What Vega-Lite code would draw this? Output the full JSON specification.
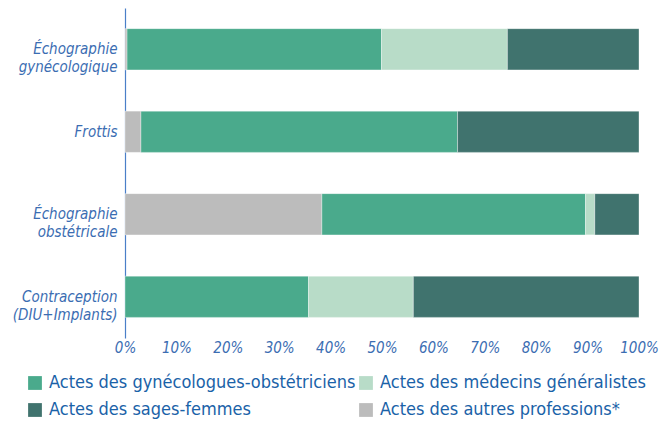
{
  "$schema": "https://vega.github.io/schema/vega-lite/v6.json",
  "width": 514,
  "height": 330,
  "autosize": "none",
  "padding": {"left": 125, "top": 8, "right": 31, "bottom": 83},
  "background": "#ffffff",
  "config": {
    "view": {"stroke": null},
    "font": "Liberation Sans Narrow, DejaVu Sans Condensed, sans-serif"
  },
  "data": {
    "values": [
      {"acte": "Échographie|gynécologique", "type": "Actes des autres professions*", "pct": 0.4, "ord": 0},
      {"acte": "Échographie|gynécologique", "type": "Actes des gynécologues-obstétriciens", "pct": 49.5, "ord": 1},
      {"acte": "Échographie|gynécologique", "type": "Actes des médecins généralistes", "pct": 24.5, "ord": 2},
      {"acte": "Échographie|gynécologique", "type": "Actes des sages-femmes", "pct": 25.6, "ord": 3},
      {"acte": "Frottis", "type": "Actes des autres professions*", "pct": 3.1, "ord": 0},
      {"acte": "Frottis", "type": "Actes des gynécologues-obstétriciens", "pct": 61.6, "ord": 1},
      {"acte": "Frottis", "type": "Actes des sages-femmes", "pct": 35.3, "ord": 3},
      {"acte": "Échographie|obstétricale", "type": "Actes des autres professions*", "pct": 38.3, "ord": 0},
      {"acte": "Échographie|obstétricale", "type": "Actes des gynécologues-obstétriciens", "pct": 51.3, "ord": 1},
      {"acte": "Échographie|obstétricale", "type": "Actes des médecins généralistes", "pct": 1.8, "ord": 2},
      {"acte": "Échographie|obstétricale", "type": "Actes des sages-femmes", "pct": 8.6, "ord": 3},
      {"acte": "Contraception|(DIU+Implants)", "type": "Actes des gynécologues-obstétriciens", "pct": 35.7, "ord": 1},
      {"acte": "Contraception|(DIU+Implants)", "type": "Actes des médecins généralistes", "pct": 20.4, "ord": 2},
      {"acte": "Contraception|(DIU+Implants)", "type": "Actes des sages-femmes", "pct": 43.9, "ord": 3}
    ]
  },
  "mark": {"type": "bar", "stroke": "#ffffff", "strokeWidth": 0.6, "strokeOpacity": 0.6},
  "encoding": {
    "y": {
      "field": "acte",
      "type": "nominal",
      "sort": ["Échographie|gynécologique", "Frottis", "Échographie|obstétricale", "Contraception|(DIU+Implants)"],
      "scale": {"paddingInner": 0.5, "paddingOuter": 0.25},
      "axis": {
        "title": null,
        "ticks": false,
        "domainColor": "#4a7fc8",
        "domainWidth": 1.2,
        "labelExpr": "split(datum.label, '|')",
        "labelFontStyle": "italic",
        "labelFontSize": 15,
        "labelLineHeight": 18,
        "labelColor": "#3b6db2",
        "labelPadding": 8
      }
    },
    "x": {
      "field": "pct",
      "type": "quantitative",
      "stack": "normalize",
      "axis": {
        "title": null,
        "format": ".0%",
        "values": [0, 0.1, 0.2, 0.3, 0.4, 0.5, 0.6, 0.7, 0.8, 0.9, 1],
        "domain": false,
        "ticks": false,
        "grid": false,
        "labelFontStyle": "italic",
        "labelFontSize": 15,
        "labelColor": "#3b6db2",
        "labelPadding": 2,
        "labelFlush": false
      }
    },
    "color": {
      "field": "type",
      "type": "nominal",
      "scale": {
        "domain": ["Actes des gynécologues-obstétriciens", "Actes des médecins généralistes", "Actes des sages-femmes", "Actes des autres professions*"],
        "range": ["#4aaa8c", "#b8dcc8", "#40736e", "#bcbcbc"]
      },
      "legend": {
        "title": null,
        "orient": "none",
        "legendX": -99,
        "legendY": 366,
        "direction": "horizontal",
        "columns": 2,
        "symbolType": "square",
        "symbolSize": 190,
        "symbolStrokeWidth": 0,
        "labelFontSize": 18,
        "labelColor": "#1a62a8",
        "labelOffset": 5,
        "rowPadding": 9,
        "columnPadding": 1,
        "labelLimit": 400
      }
    },
    "order": {"field": "ord", "type": "quantitative"}
  }
}
